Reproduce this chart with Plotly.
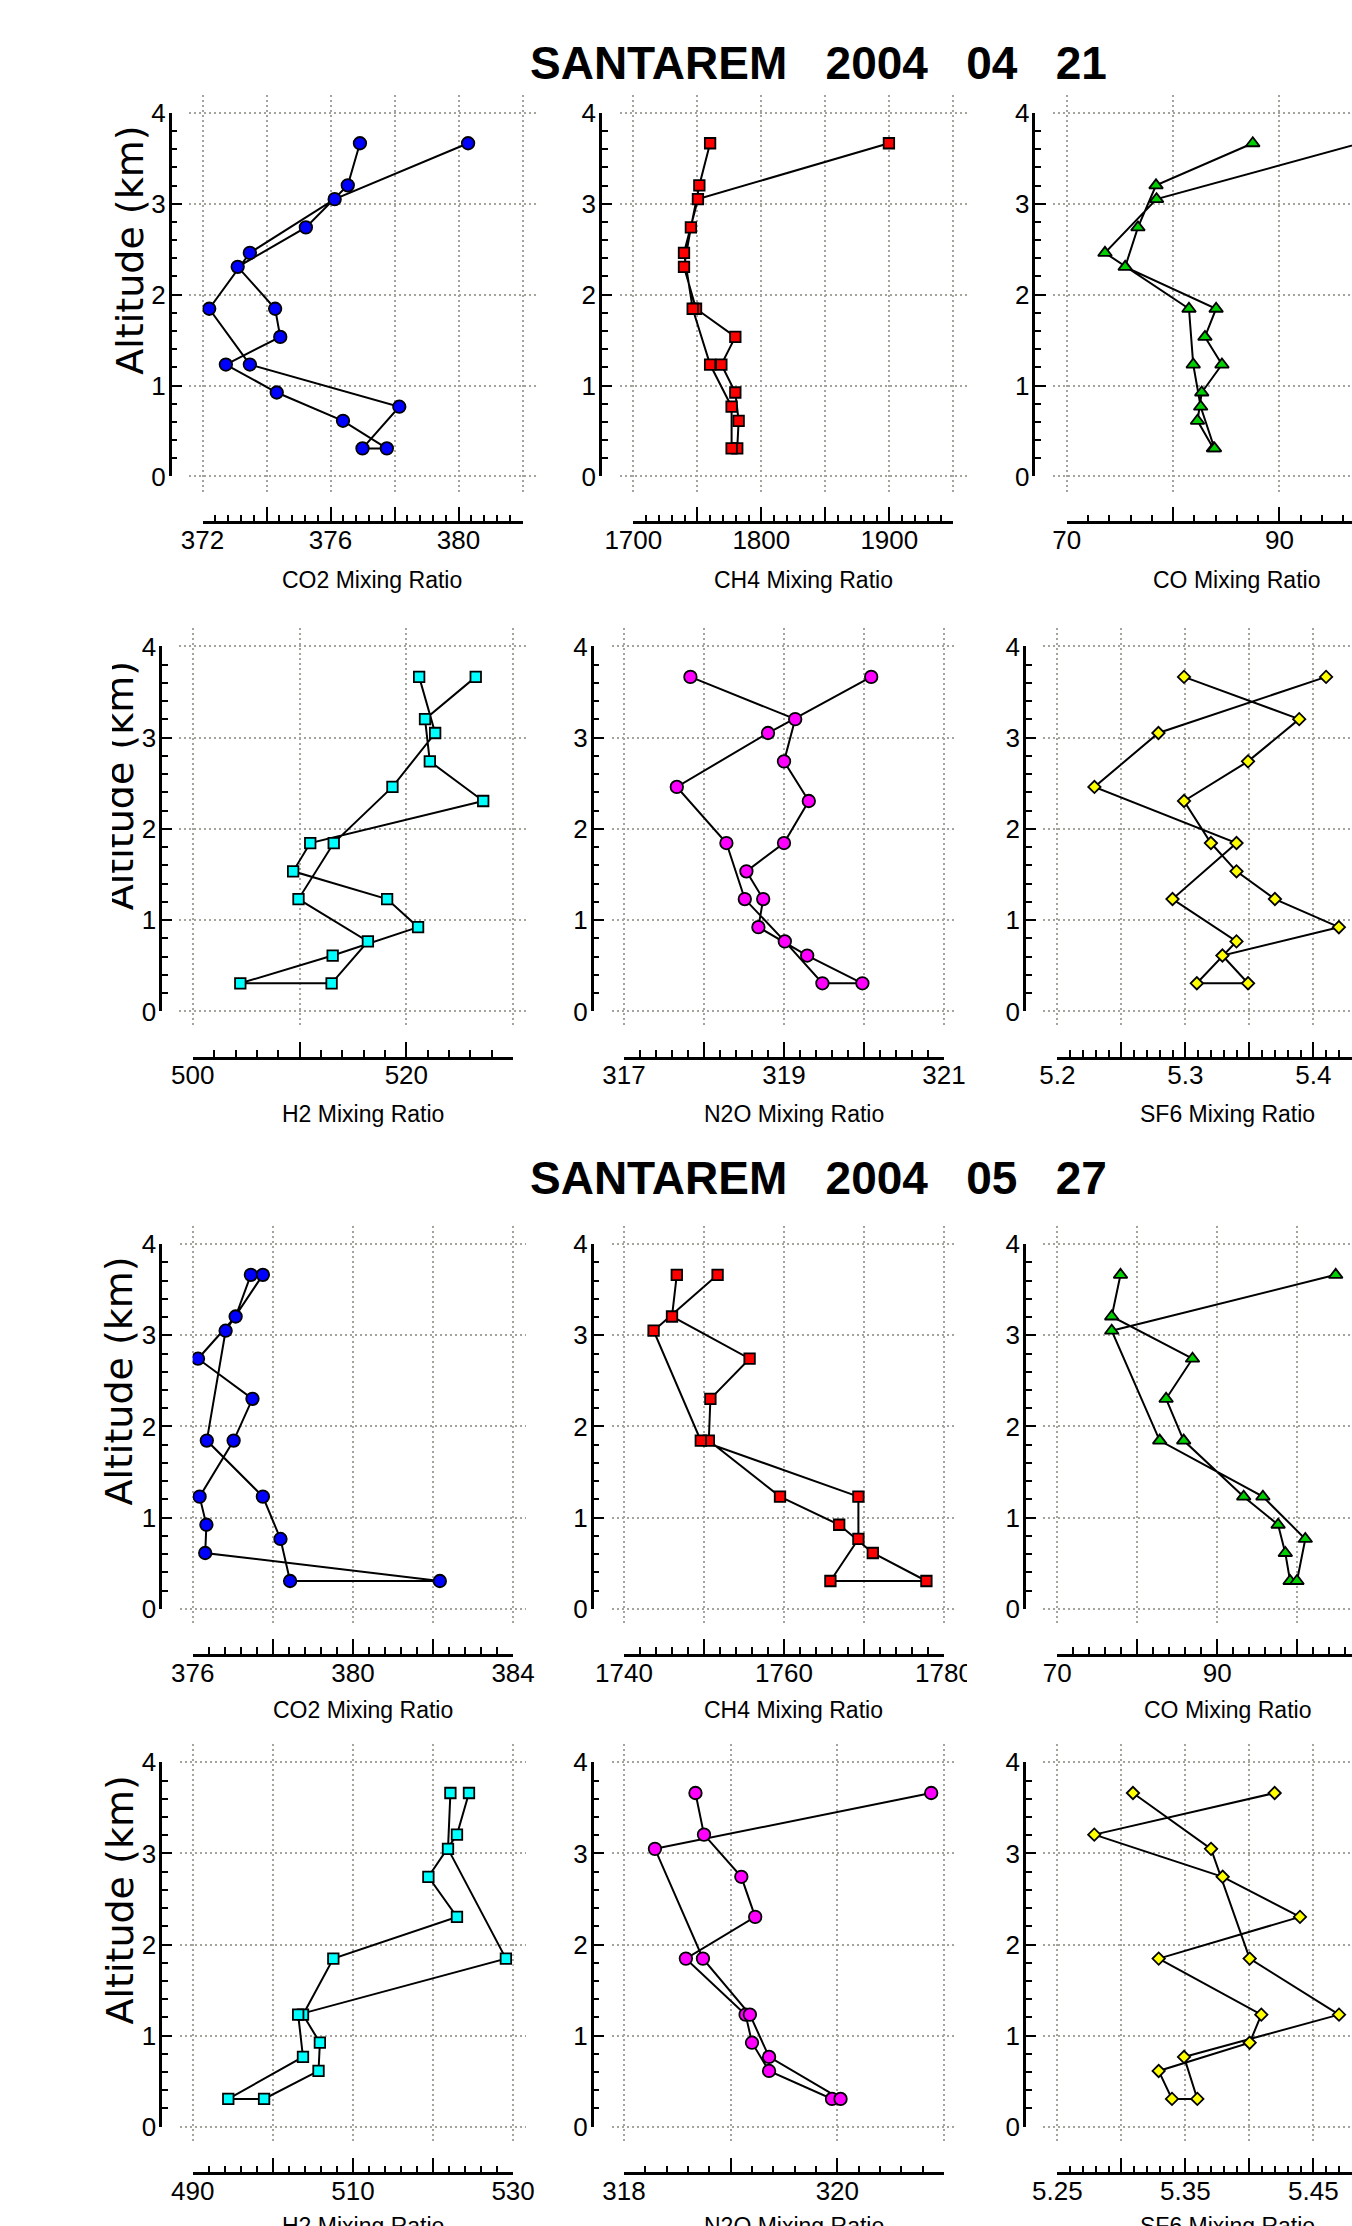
import plotly.graph_objects as go

W, H = 1352, 2226

# ---------------- data (profile order: first leg top->bottom, second leg bottom->top) ----------------
ALT_0421 = [3.666, 3.203, 2.740, 2.306, 1.845, 1.535, 1.231, 0.923, 0.612, 0.308,
            0.308, 0.767, 1.231, 1.845, 2.460, 3.051, 3.666]
CO2_0421 = [376.92, 376.54, 375.23, 373.10, 374.27, 374.43, 372.73, 374.32, 376.39, 377.76,
            377.00, 378.15, 373.48, 372.21, 373.48, 376.13, 380.30]
CH4_0421 = [1760.0, 1751.6, 1745.0, 1739.6, 1749.0, 1779.7, 1768.8, 1779.7, 1782.3, 1781.2,
            1776.8, 1776.8, 1760.0, 1746.4, 1739.6, 1750.5, 1899.7]
CO_0421 = [87.5, 78.4, 76.7, 75.5, 84.05, 83.0, 84.6, 82.7, 82.3, 83.8,
           83.9, 82.6, 81.9, 81.5, 73.6, 78.45, 97.6]
H2_0421 = [526.5, 521.75, 522.2, 527.2, 511.0, 509.4, 518.2, 521.1, 513.1, 504.45,
           513.0, 516.4, 509.9, 513.2, 518.7, 522.7, 521.2]
N2O_0421 = [317.83, 319.14, 319.00, 319.31, 319.00, 318.53, 318.74, 318.68, 319.29, 319.98,
            319.48, 319.01, 318.51, 318.28, 317.66, 318.80, 320.09]
SF6_0421 = [5.299, 5.389, 5.349, 5.299, 5.320, 5.340, 5.370, 5.420, 5.329, 5.349,
            5.309, 5.340, 5.290, 5.340, 5.229, 5.279, 5.410]

ALT_0527 = [3.663, 3.206, 2.743, 2.303, 1.845, 1.230, 0.922, 0.612, 0.305,
            0.305, 0.766, 1.230, 1.845, 3.050, 3.663]
CO2_0527 = [377.45, 377.07, 376.13, 377.49, 377.02, 376.17, 376.34, 376.31, 382.17,
            378.43, 378.19, 377.75, 376.35, 376.82, 377.75]
CH4_0527 = [1746.6, 1746.0, 1755.7, 1750.8, 1750.6, 1759.5, 1766.9, 1771.1, 1777.8,
            1765.8, 1769.3, 1769.3, 1749.6, 1743.7, 1751.7]
CO_0527 = [77.9, 76.8, 86.9, 83.6, 85.8, 93.3, 97.6, 98.5, 99.1,
           99.96, 101.0, 95.7, 82.8, 76.8, 104.8]
H2_0527 = [524.49, 522.99, 519.42, 522.99, 507.55, 503.76, 505.87, 505.70, 498.90,
           494.43, 503.76, 503.16, 529.10, 521.87, 522.17]
N2O_0527 = [318.67, 318.75, 319.10, 319.23, 318.58, 319.14, 319.20, 319.36, 319.95,
            320.03, 319.36, 319.18, 318.74, 318.29, 320.88]
SF6_0527 = [5.4198, 5.2789, 5.3792, 5.4396, 5.3292, 5.4094, 5.4003, 5.3292, 5.3396,
            5.3594, 5.3490, 5.4701, 5.4003, 5.3701, 5.3091]

# tick labels
XLAB_CO2_0421 = ["372", "376", "380"]
XLAB_CH4_0421 = ["1700", "1800", "1900"]
XLAB_CO_0421 = ["70", "90"]
XLAB_H2_0421 = ["500", "520"]
XLAB_N2O_0421 = ["317", "319", "321"]
XLAB_SF6_0421 = ["5.2", "5.3", "5.4"]
XLAB_CO2_0527 = ["376", "380", "384"]
XLAB_CH4_0527 = ["1740", "1760", "1780"]
XLAB_CO_0527 = ["70", "90", "110"]
XLAB_H2_0527 = ["490", "510", "530"]
XLAB_N2O_0527 = ["318", "320"]
XLAB_SF6_0527 = ["5.25", "5.35", "5.45"]
YLAB = ["0", "1", "2", "3", "4"]

TITLE_0421 = "SANTAREM\u00a0\u00a0\u00a02004\u00a0\u00a0\u00a004\u00a0\u00a0\u00a021"
TITLE_0527 = "SANTAREM\u00a0\u00a0\u00a02004\u00a0\u00a0\u00a005\u00a0\u00a0\u00a027"
ALT_TITLE = "Altitude (km)"

# ---------------- styles ----------------
SANS = "Liberation Sans, Arial, Helvetica, sans-serif"
WIDE = "DejaVu Sans, Verdana, sans-serif"
GRID = "#a4a49c"

STYLE = {
    "CO2": dict(symbol="circle", color="#0000ff", size=12.5),
    "CH4": dict(symbol="square", color="#ff0000", size=10.5),
    "CO": dict(symbol="triangle-up", color="#00d000", size=12),
    "H2": dict(symbol="square", color="#00ffff", size=10.5),
    "N2O": dict(symbol="circle", color="#ff00ff", size=12.5),
    "SF6": dict(symbol="diamond", color="#ffff00", size=9.5),
}

# row geometry (pixels)
ROW_GEOM = [
    dict(y4=112.9, y0=476.4, gtop=94.5, gbot=493.6, xay=522.3, xt=579.7, ax=130.0, ay=250.7),
    dict(y4=646.4, y0=1011.4, gtop=627.9, gbot=1026.8, xay=1057.5, xt=1114.3, ax=119.5, ay=785.7),
    dict(y4=1244.1, y0=1608.8, gtop=1226.1, gbot=1626.0, xay=1654.7, xt=1710.2, ax=119.5, ay=1381.1),
    dict(y4=1762.3, y0=2126.7, gtop=1744.0, gbot=2144.0, xay=2173.3, xt=2226.0, ax=119.5, ay=1900.0),
]
# per row, per column: (y-axis line x, grid left x, x-axis start x, x-axis length)
COL_GEOM = [
    [(169.6, 189.3, 202.5, 320.0), (600.0, 620.0, 633.3, 320.0), (1033.3, 1053.3, 1066.7, 319.0)],
    [(160.1, 179.0, 192.8, 320.3), (591.7, 611.7, 624.0, 320.0), (1024.0, 1043.3, 1057.3, 320.0)],
    [(160.1, 179.8, 192.8, 320.3), (591.7, 611.7, 624.0, 320.0), (1024.0, 1043.3, 1057.3, 320.0)],
    [(160.1, 179.8, 192.8, 320.3), (591.7, 611.7, 624.0, 320.0), (1024.0, 1043.3, 1057.3, 320.0)],
]

PANELS = [
    (0, 0, "CO2 Mixing Ratio", CO2_0421, ALT_0421, "CO2", 372, 382, 2, 0.4, XLAB_CO2_0421),
    (0, 1, "CH4 Mixing Ratio", CH4_0421, ALT_0421, "CH4", 1700, 1950, 50, 10, XLAB_CH4_0421),
    (0, 2, "CO Mixing Ratio", CO_0421, ALT_0421, "CO", 70, 100, 10, 2, XLAB_CO_0421),
    (1, 0, "H2 Mixing Ratio", H2_0421, ALT_0421, "H2", 500, 530, 10, 2, XLAB_H2_0421),
    (1, 1, "N2O Mixing Ratio", N2O_0421, ALT_0421, "N2O", 317, 321, 1, 0.2, XLAB_N2O_0421),
    (1, 2, "SF6 Mixing Ratio", SF6_0421, ALT_0421, "SF6", 5.2, 5.45, 0.05, 0.01, XLAB_SF6_0421),
    (2, 0, "CO2 Mixing Ratio", CO2_0527, ALT_0527, "CO2", 376, 384, 2, 0.4, XLAB_CO2_0527),
    (2, 1, "CH4 Mixing Ratio", CH4_0527, ALT_0527, "CH4", 1740, 1780, 10, 2, XLAB_CH4_0527),
    (2, 2, "CO Mixing Ratio", CO_0527, ALT_0527, "CO", 70, 110, 10, 2, XLAB_CO_0527),
    (3, 0, "H2 Mixing Ratio", H2_0527, ALT_0527, "H2", 490, 530, 10, 2, XLAB_H2_0527),
    (3, 1, "N2O Mixing Ratio", N2O_0527, ALT_0527, "N2O", 318, 321, 1, 0.2, XLAB_N2O_0527),
    (3, 2, "SF6 Mixing Ratio", SF6_0527, ALT_0527, "SF6", 5.25, 5.5, 0.05, 0.01, XLAB_SF6_0527),
]


def fx(px):
    return max(0.0, min(1.0, px / W))


def fy(py):
    return max(0.0, min(1.0, 1 - py / H))


def px2x(px):
    return px / W


def py2y(py):
    return 1 - py / H


def akey(kind, n):
    return f"{kind}axis" if n == 1 else f"{kind}axis{n}"


def aid(kind, n):
    return kind if n == 1 else f"{kind}{n}"


def fmt(v):
    return ("%.4f" % v).rstrip("0").rstrip(".")


def steps(a, b, s):
    n = int(round((b - a) / s))
    return [round(a + k * s, 6) for k in range(n + 1)]


fig = go.Figure()
lay = {}
ann = []

tickfont = dict(family=SANS, size=26, color="black")

for i, (row, col, xtitle, xs, alts, sp, r0, r1, major, minor, labels) in enumerate(PANELS):
    rg = ROW_GEOM[row]
    yax_x, gl, xs0, xlen = COL_GEOM[row][col]
    ppu = xlen / (r1 - r0)
    x_end = min(xs0 + xlen, W)
    r1v = r0 + (x_end - xs0) / ppu
    gr = min(xs0 + xlen + (xs0 - gl), W)
    g0 = r0 + (gl - xs0) / ppu
    g1 = r0 + (gr - xs0) / ppu
    ppk = (rg["y0"] - rg["y4"]) / 4.0
    a_top = 4 + (rg["y4"] - rg["gtop"]) / ppk
    a_bot = -(rg["gbot"] - rg["y0"]) / ppk

    g = 2 * i + 1
    d = 2 * i + 2

    # grid subplot (dotted grid, extends slightly beyond the axes)
    lay[akey("x", g)] = dict(domain=[fx(gl), fx(gr)], range=[g0, g1], anchor=aid("y", g),
                             showgrid=True, gridcolor=GRID, griddash="2px,3px", gridwidth=2,
                             tickmode="linear", tick0=r0, dtick=major, showticklabels=False,
                             ticks="", showline=False, zeroline=False, fixedrange=True)
    lay[akey("y", g)] = dict(domain=[fy(rg["gbot"]), fy(rg["gtop"])], range=[a_bot, a_top],
                             anchor=aid("x", g),
                             showgrid=True, gridcolor=GRID, griddash="2px,3px", gridwidth=2,
                             tickmode="linear", tick0=0, dtick=1, showticklabels=False,
                             ticks="", showline=False, zeroline=False, fixedrange=True)
    fig.add_trace(go.Scatter(x=[None], y=[None], xaxis=aid("x", g), yaxis=aid("y", g),
                             mode="markers", marker=dict(opacity=0), showlegend=False,
                             hoverinfo="skip"))

    # display axes
    majors = steps(r0, r1, major)
    mtext = [fmt(v) if fmt(v) in labels else "" for v in majors]
    minors = [v for v in steps(r0, r1, minor)
              if all(abs(v - m) > minor * 0.01 for m in majors)]
    lay[akey("x", d)] = dict(domain=[fx(xs0), fx(x_end)], range=[r0, r1v], anchor="free",
                             position=fy(rg["xay"]), side="bottom",
                             showline=True, linecolor="black", linewidth=2.5,
                             ticks="inside", ticklen=15, tickwidth=2, tickcolor="black",
                             tickmode="array", tickvals=majors, ticktext=mtext,
                             tickfont=tickfont, ticklabelstandoff=-6,
                             minor=dict(ticks="inside", ticklen=6.5, tickwidth=2,
                                        tickcolor="black", tickmode="array",
                                        tickvals=minors, showgrid=False),
                             showgrid=False, zeroline=False, fixedrange=True)
    yminors = [v for v in steps(0, 4, 0.2) if abs(v - round(v)) > 1e-6]
    lay[akey("y", d)] = dict(domain=[fy(rg["y0"]), fy(rg["y4"])], range=[0, 4], anchor="free",
                             position=fx(yax_x), side="left",
                             showline=True, linecolor="black", linewidth=2.5,
                             ticks="inside", ticklen=10.5, tickwidth=2, tickcolor="black",
                             tickmode="array", tickvals=[0, 1, 2, 3, 4], ticktext=YLAB,
                             tickfont=tickfont, ticklabelstandoff=-2,
                             minor=dict(ticks="inside", ticklen=6, tickwidth=2,
                                        tickcolor="black", tickmode="array",
                                        tickvals=yminors, showgrid=False),
                             showgrid=False, zeroline=False, fixedrange=True)

    st = STYLE[sp]
    fig.add_trace(go.Scatter(x=xs, y=alts, xaxis=aid("x", d), yaxis=aid("y", d),
                             mode="lines+markers", cliponaxis=True,
                             line=dict(color="black", width=2),
                             marker=dict(symbol=st["symbol"], size=st["size"], color=st["color"],
                                         line=dict(color="black", width=1.8)),
                             showlegend=False, hoverinfo="skip"))

    # x-axis title
    ann.append(dict(text=xtitle, x=px2x(xs0 + xlen / 2 + 10), y=py2y(rg["xt"]),
                    xref="paper", yref="paper", xanchor="center", yanchor="middle",
                    showarrow=False, font=dict(family=SANS, size=23, color="black")))
    if col == 0:
        ann.append(dict(text=ALT_TITLE, x=px2x(rg["ax"]), y=py2y(rg["ay"]), textangle=-90,
                        xref="paper", yref="paper", xanchor="center", yanchor="middle",
                        showarrow=False, font=dict(family=WIDE, size=38, color="black")))
        if row == 1:
            # the reference clips the upper part of this label's letters
            ann.append(dict(text="\u00a0", x=px2x(112), y=py2y(rg["ay"]),
                            xref="paper", yref="paper", xanchor="right", yanchor="middle",
                            width=30, height=300, bgcolor="white", borderpad=0, borderwidth=0,
                            showarrow=False, font=dict(family=SANS, size=10)))

# the reference frame clips the last tick label of the second CH4 panel
ann.append(dict(text="\u00a0", x=px2x(967), y=py2y(1668), xref="paper", yref="paper",
                xanchor="left", yanchor="middle", width=22, height=40, bgcolor="white",
                borderpad=0, borderwidth=0, showarrow=False, font=dict(family=SANS, size=10)))

for ttl, ty in ((TITLE_0421, 63.0), (TITLE_0527, 1178.0)):
    ann.append(dict(text="<b>" + ttl + "</b>", x=px2x(819), y=py2y(ty), xref="paper", yref="paper",
                    xanchor="center", yanchor="middle", showarrow=False,
                    font=dict(family=SANS, size=46, color="black")))

fig.update_layout(width=W, height=H,
                  margin=dict(l=0, r=0, t=0, b=0, pad=0, autoexpand=False),
                  paper_bgcolor="white", plot_bgcolor="rgba(0,0,0,0)",
                  showlegend=False, annotations=ann, **lay)

fig.write_html("out.html", config={"responsive": False})
